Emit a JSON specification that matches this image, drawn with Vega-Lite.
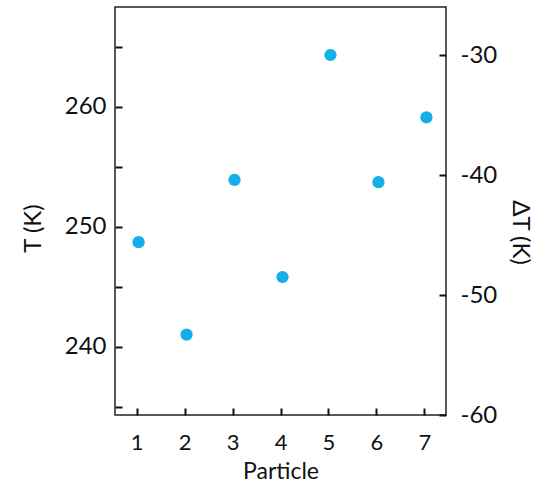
{
  "$schema": "https://vega.github.io/schema/vega-lite/v6.json",
  "autosize": "none",
  "padding": {"left": 115, "top": 7, "right": 104, "bottom": 68},
  "width": 331,
  "height": 408,
  "background": "white",
  "config": {
    "view": {"stroke": "#222", "strokeWidth": 1.5},
    "font": "Lato",
    "axis": {
      "labelFont": "Lato", "titleFont": "Lato", "labelFontSize": 24, "titleFontSize": 24,
      "labelColor": "#111", "titleColor": "#111", "titleFontWeight": "normal",
      "grid": false, "domain": false, "tickColor": "#111", "tickWidth": 2, "tickSize": -7
    }
  },
  "data": {"values": [
    {"particle": 1, "T": 248.7, "dT": -45.6},
    {"particle": 2, "T": 241.0, "dT": -53.3},
    {"particle": 3, "T": 253.9, "dT": -40.4},
    {"particle": 4, "T": 245.8, "dT": -48.5},
    {"particle": 5, "T": 264.3, "dT": -30.0},
    {"particle": 6, "T": 253.7, "dT": -40.6},
    {"particle": 7, "T": 259.1, "dT": -35.2}
  ]},
  "encoding": {
    "x": {"field": "particle", "type": "quantitative",
      "scale": {"domain": [0.55, 7.45], "nice": false, "zero": false},
      "axis": {"values": [1,2,3,4,5,6,7], "title": "Particle", "labelBaseline": "alphabetic", "labelPadding": 41, "labelFontSize": 22,
        "titleBaseline": "alphabetic", "titleY": 63, "titleFontSize": 23}}
  },
  "layer": [
    {
      "mark": {"type": "circle", "size": 150, "color": "#14aee8", "opacity": 1, "xOffset": 2},
      "encoding": {
        "y": {"field": "T", "type": "quantitative",
          "scale": {"domain": [234.3, 268.3], "nice": false, "zero": false},
          "axis": {"orient": "left", "title": "T (K)", "values": [235,240,245,250,255,260,265],
            "labelExpr": "datum.value % 10 == 0 ? datum.label : ''", "labelPadding": 16, "titlePadding": 19, "titleY": 221}}
      }
    },
    {
      "mark": {"type": "circle", "size": 150, "opacity": 0},
      "encoding": {
        "y": {"field": "dT", "type": "quantitative",
          "scale": {"domain": [-60, -26], "nice": false, "zero": false},
          "axis": {"orient": "right", "title": "ΔT (K)", "values": [-60,-50,-40,-30], "labelExpr": "datum.value + ''", "labelPadding": 21, "titlePadding": 11, "titleY": 225}}
      }
    }
  ],
  "resolve": {"scale": {"y": "independent"}}
}
